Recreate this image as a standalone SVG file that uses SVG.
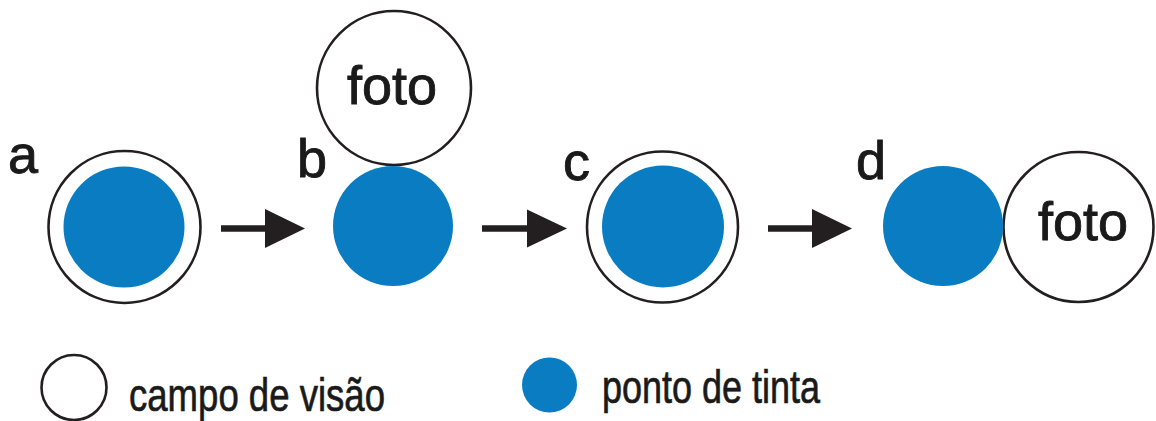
<svg xmlns="http://www.w3.org/2000/svg" width="1156" height="421" viewBox="0 0 1156 421">
<style>
.ink{fill:#0a7dc2}
.ring{fill:#fff;stroke:#231f20;stroke-width:2.6}
.lbl{font-family:"Liberation Sans",Arial,sans-serif;font-size:54px;fill:#1a1a1a;stroke:#1a1a1a;stroke-width:0.9}
.leg{font-family:"Liberation Sans",Arial,sans-serif;font-size:47px;fill:#1a1a1a;stroke:#1a1a1a;stroke-width:0.7}
.shaft{stroke:#231f20;stroke-width:6.5}
.head{fill:#231f20}
</style>
<rect width="1156" height="421" fill="#fff"/>
<g id="node-a">
<circle class="ring" cx="124.5" cy="227" r="76"/>
<circle class="ink" cx="124" cy="227" r="60.5"/>
<text class="lbl" x="8" y="173">a</text>
</g>
<g id="node-b">
<circle class="ring" cx="394" cy="88" r="77"/>
<text class="lbl" x="392" y="104" text-anchor="middle">foto</text>
<circle class="ink" cx="393" cy="226" r="60"/>
<text class="lbl" x="297" y="177">b</text>
</g>
<g id="node-c">
<circle class="ring" cx="662.5" cy="227" r="75.5"/>
<circle class="ink" cx="663" cy="226.5" r="61"/>
<text class="lbl" x="563" y="180">c</text>
</g>
<g id="node-d">
<circle class="ring" cx="1078.5" cy="227" r="75"/>
<text class="lbl" x="1083" y="240" text-anchor="middle">foto</text>
<circle class="ink" cx="943" cy="226" r="60"/>
<text class="lbl" x="856" y="179">d</text>
</g>
<g id="connectors">
<line class="shaft" x1="221" y1="228.5" x2="268" y2="228.5"/>
<polygon class="head" points="265,209 305,228.5 265,248"/>
<line class="shaft" x1="482" y1="228.5" x2="530" y2="228.5"/>
<polygon class="head" points="527,209.5 567,228.5 527,247.5"/>
<line class="shaft" x1="768" y1="228.5" x2="815" y2="228.5"/>
<polygon class="head" points="812,209 852,228.5 812,248"/>
</g>
<g id="legend">
<circle cx="74" cy="387.5" r="32.5" fill="#fff" stroke="#231f20" stroke-width="2.6"/>
<text class="leg" x="129" y="411" textLength="256" lengthAdjust="spacingAndGlyphs">campo de visão</text>
<circle class="ink" cx="549.5" cy="385" r="27.5"/>
<text class="leg" x="602" y="403" textLength="218" lengthAdjust="spacingAndGlyphs">ponto de tinta</text>
</g>
</svg>
